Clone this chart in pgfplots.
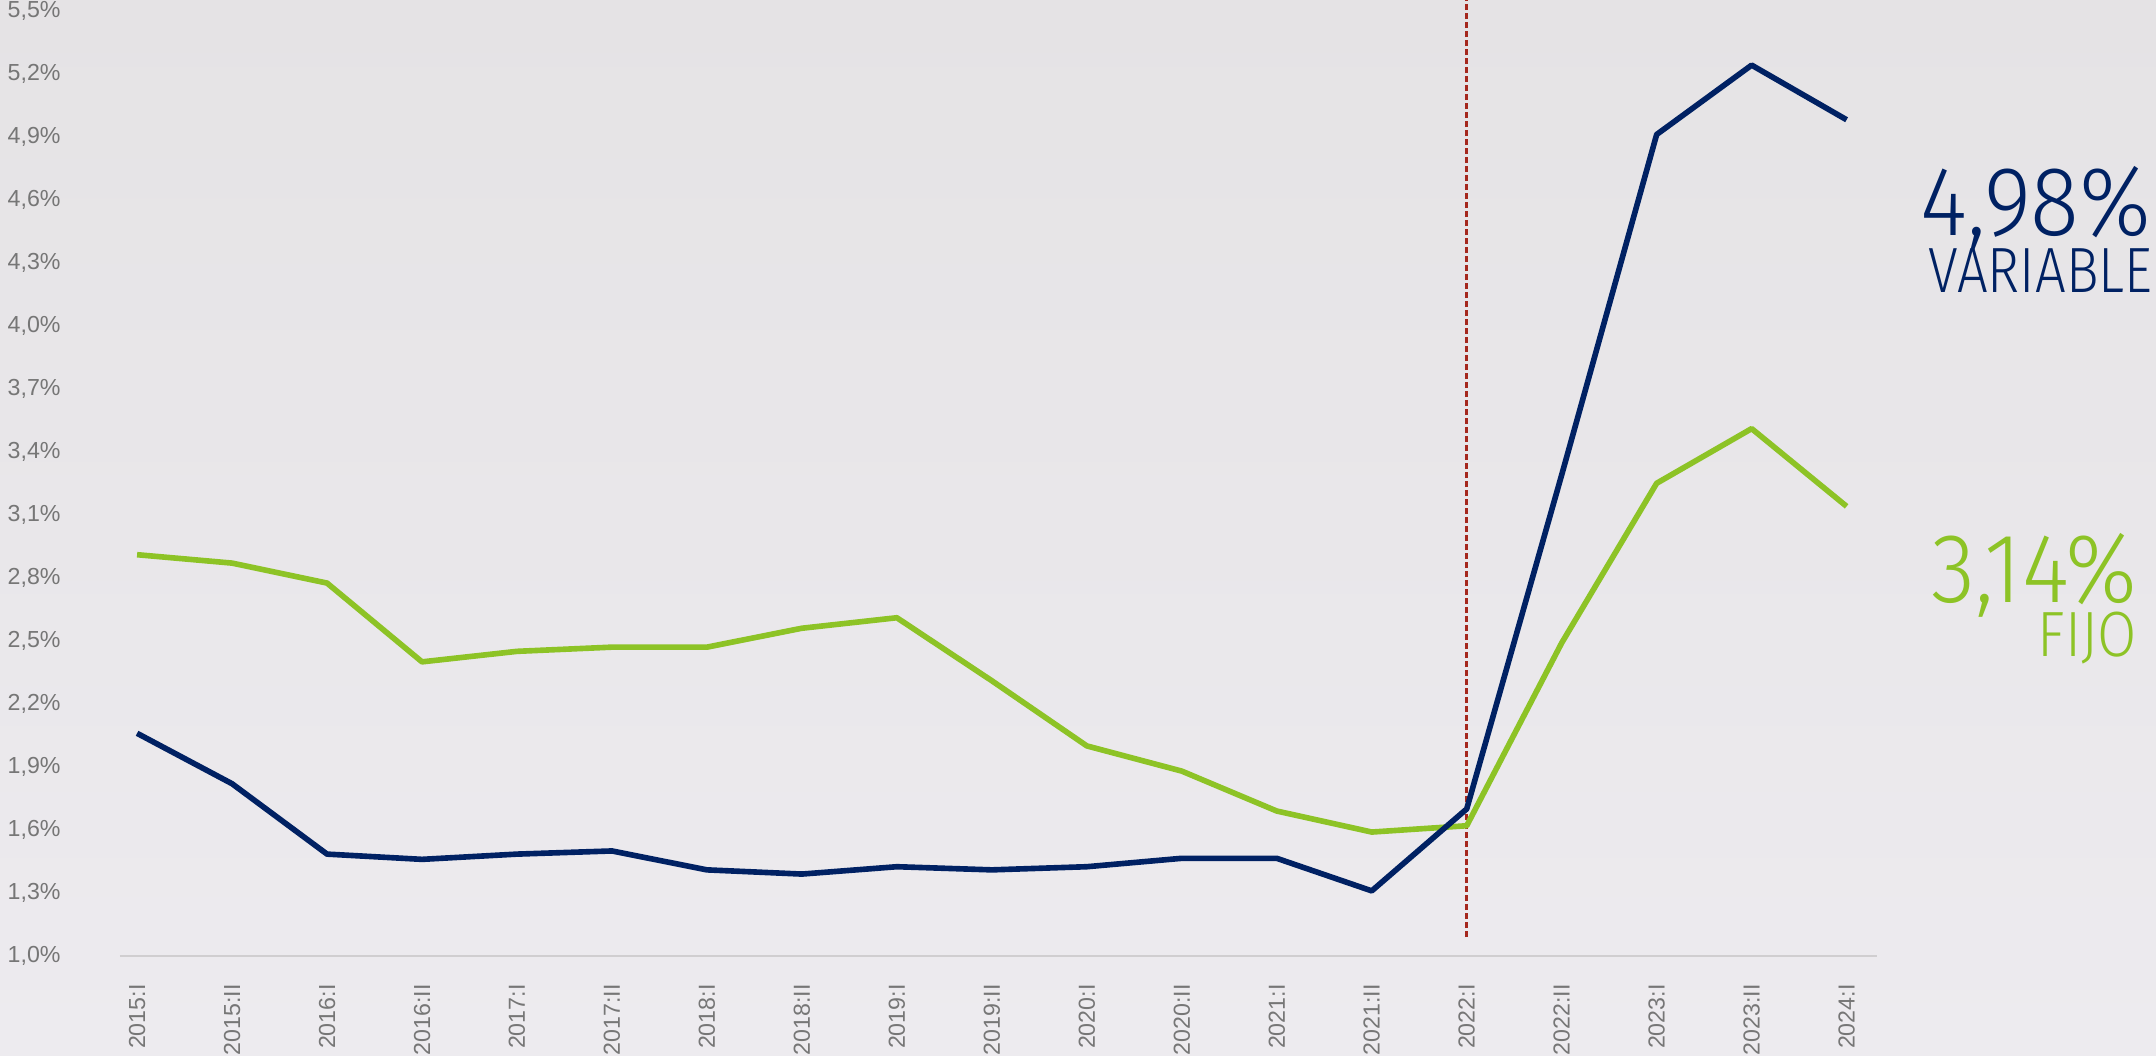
\documentclass[border=0pt]{standalone}
\usepackage{pgfplots}
\pgfplotsset{compat=1.18}
\usepackage{pgfplotstable}
\usepackage{fontspec}
\setmainfont{Liberation Sans}
\newfontfamily\bigfont[FakeStretch=0.92]{Fira Sans Light}
\newfontfamily\varfont[FakeStretch=0.85]{Fira Sans Light}
\newfontfamily\fijofont[FakeStretch=0.89]{Fira Sans Light}
\definecolor{navy}{RGB}{0,33,99}
\definecolor{lime}{RGB}{141,195,38}
\definecolor{ticktext}{RGB}{118,118,118}
\definecolor{refred}{RGB}{165,40,30}
\definecolor{bgtop}{RGB}{229,227,229}
\definecolor{bgbot}{RGB}{237,235,239}
\definecolor{axisgray}{RGB}{208,206,208}

\pgfplotstableread{
x var fijo
0 2.06 2.91
1 1.82 2.87
2 1.485 2.775
3 1.46 2.40
4 1.485 2.45
5 1.50 2.47
6 1.41 2.47
7 1.39 2.56
8 1.425 2.61
9 1.41 2.31
10 1.425 2.00
11 1.465 1.88
12 1.465 1.69
13 1.31 1.59
14 1.70 1.62
15 3.29 2.49
16 4.91 3.25
17 5.24 3.51
18 4.98 3.14
}\ratedata

\begin{document}
\begin{tikzpicture}
\useasboundingbox (0,0) rectangle (21.56cm,10.55cm);
\shade[top color=bgtop,bottom color=bgbot] (0,0) rectangle (21.56cm,10.55cm);
\begin{axis}[
  at={(1.20cm,0.99cm)}, anchor=south west,
  scale only axis, width=17.57cm, height=9.56cm,
  xmin=-0.18, xmax=18.32, ymin=1.0, ymax=5.55,
  axis x line*=bottom, axis y line*=left,
  x axis line style={draw=axisgray, line width=0.8pt, -},
  y axis line style={draw=none},
  tick style={draw=none},
  xtick={0,1,2,3,4,5,6,7,8,9,10,11,12,13,14,15,16,17,18},
  xticklabels={2015:I,2015:II,2016:I,2016:II,2017:I,2017:II,2018:I,2018:II,2019:I,2019:II,2020:I,2020:II,2021:I,2021:II,2022:I,2022:II,2023:I,2023:II,2024:I},
  ytick={1.0,1.3,1.6,1.9,2.2,2.5,2.8,3.1,3.4,3.7,4.0,4.3,4.6,4.9,5.2,5.5},
  /pgf/number format/assume math mode=true,
  yticklabel={\pgfmathprintnumber[fixed,fixed zerofill,precision=1,use comma]{\tick}\%},
  every tick label/.append style={font=\fontsize{6.6}{7}\selectfont, text=ticktext},
  xticklabel style={yshift=-0.16cm, rotate=90, anchor=east},
  yticklabel style={anchor=east, xshift=-0.47cm},
  clip=false,
]
\addplot[refred, line width=0.85pt, dash pattern=on 0.06cm off 0.03cm] coordinates {(14,1.09) (14,5.55)};
\addplot[lime, line width=1.6pt, line join=round] table[x=x, y=fijo] {\ratedata};
\addplot[navy, line width=1.6pt, line join=round] table[x=x, y=var] {\ratedata};
\end{axis}
\node[anchor=base east, text=navy, inner sep=0, font=\bigfont\fontsize{28}{28}\selectfont] at (21.52cm,8.20cm) {4,98\%};
\node[anchor=base east, text=navy, inner sep=0, font=\varfont\fontsize{18.2}{19}\selectfont] at (21.53cm,7.63cm) {VARIABLE};
\node[anchor=base east, text=lime, inner sep=0, font=\bigfont\fontsize{28}{28}\selectfont] at (21.38cm,4.53cm) {3,14\%};
\node[anchor=base east, text=lime, inner sep=0, font=\fijofont\fontsize{18.2}{19}\selectfont] at (21.38cm,3.99cm) {FIJO};
\end{tikzpicture}
\end{document}
